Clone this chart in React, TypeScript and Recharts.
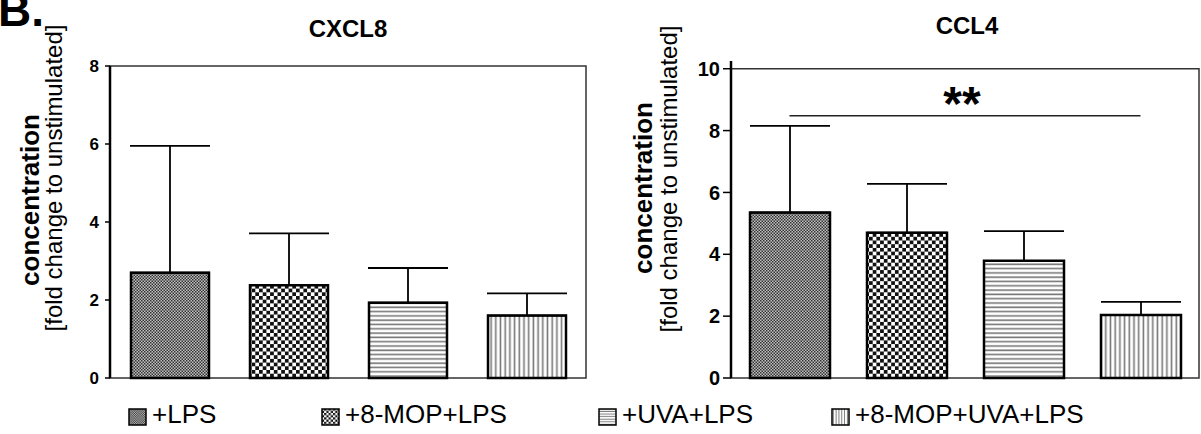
import { BarChart, Bar, XAxis, YAxis, ErrorBar, Cell, ReferenceArea, ReferenceLine } from "recharts"

// values (mean and upper SD, fold change to unstimulated)
const categories = ["+LPS", "+8-MOP+LPS", "+UVA+LPS", "+8-MOP+UVA+LPS"]
const cxcl8Mean = [2.7, 2.38, 1.93, 1.6]
const cxcl8Sd = [3.25, 1.33, 0.89, 0.57]
const ccl4Mean = [5.35, 4.7, 3.79, 2.04]
const ccl4Sd = [2.8, 1.58, 0.96, 0.42]
const cxcl8Ticks = [0, 2, 4, 6, 8]
const ccl4Ticks = [0, 2, 4, 6, 8, 10]
const ccl4SigLevel = 8.48
const ccl4SigText = "**"

const FONT = "'Liberation Sans', Arial, Helvetica, sans-serif"

const buildRows = (mean: number[], sd: number[]) =>
  categories.map((name, i) => ({ name, mean: mean[i], err: [0, sd[i]] }))

const cxcl8Data = buildRows(cxcl8Mean, cxcl8Sd)
const ccl4Data = buildRows(ccl4Mean, ccl4Sd)

function Patterns({ prefix, scale = 1 }: { prefix: string; scale?: number }) {
  const s = scale
  return (
    <defs>
      <pattern id={`${prefix}-0`} width={3 * s} height={3 * s} patternUnits="userSpaceOnUse">
        <rect width={3 * s} height={3 * s} fill="#c0c0c0" />
        <rect width={1.5 * s} height={1.5 * s} fill="#333" />
        <rect x={1.5 * s} y={1.5 * s} width={1.5 * s} height={1.5 * s} fill="#333" />
      </pattern>
      <pattern id={`${prefix}-1`} width={7.4 * s} height={7.4 * s} patternUnits="userSpaceOnUse">
        <rect width={7.4 * s} height={7.4 * s} fill="#fff" />
        <rect width={3.7 * s} height={3.7 * s} fill="#111" />
        <rect x={3.7 * s} y={3.7 * s} width={3.7 * s} height={3.7 * s} fill="#111" />
      </pattern>
      <pattern id={`${prefix}-2`} width={8} height={4.3 * s} patternUnits="userSpaceOnUse">
        <rect width={8} height={4.3 * s} fill="#fff" />
        <rect y={1.2 * s} width={8} height={1.6 * s} fill="#777" />
      </pattern>
      <pattern id={`${prefix}-3`} width={4.7 * s} height={8} patternUnits="userSpaceOnUse">
        <rect width={4.7 * s} height={8} fill="#fff" />
        <rect x={1.5 * s} width={1.6 * s} height={8} fill="#777" />
      </pattern>
    </defs>
  )
}

function AxisTitle({ boldX, boldY, subX, subY }: { boldX: number; boldY: number; subX: number; subY: number }) {
  return (
    <g fontFamily={FONT} fill="#000">
      <text x={boldX} y={boldY} transform={`rotate(-90 ${boldX} ${boldY})`} textAnchor="middle" fontSize={26} fontWeight="bold">
        concentration
      </text>
      <text x={subX} y={subY} transform={`rotate(-90 ${subX} ${subY})`} textAnchor="middle" fontSize={24}>
        [fold change to unstimulated]
      </text>
    </g>
  )
}

function CXCL8Chart() {
  return (
    <BarChart width={600} height={434} data={cxcl8Data} margin={{ top: 66, right: 14, bottom: 56, left: 50 }}>
      <Patterns prefix="cx" />
      <ReferenceArea y1={0} y2={8} fill="none" stroke="#333" strokeWidth={1.5} />
      <XAxis dataKey="name" height={0} tick={false} tickLine={false} axisLine={{ stroke: "#000", strokeWidth: 2.5 }} />
      <YAxis
        width={60}
        domain={[0, 8]}
        ticks={cxcl8Ticks}
        interval={0}
        tickSize={5}
        tickMargin={6}
        axisLine={{ stroke: "#000", strokeWidth: 2.5 }}
        tickLine={{ stroke: "#000", strokeWidth: 1.5 }}
        tick={{ fill: "#000", fontSize: 17, fontWeight: "bold", fontFamily: FONT }}
        label={<AxisTitle boldX={39} boldY={200} subX={62} subY={178} />}
      />
      <Bar dataKey="mean" barSize={78} stroke="#000" strokeWidth={2.5} isAnimationActive={false}>
        {cxcl8Data.map((d, i) => (
          <Cell key={d.name} fill={`url(#cx-${i})`} />
        ))}
        <ErrorBar dataKey="err" width={40} stroke="#000" strokeWidth={1.8} direction="y" />
      </Bar>
    </BarChart>
  )
}

function CCL4Chart() {
  return (
    <BarChart width={591} height={434} data={ccl4Data} margin={{ top: 61, right: 2, bottom: 56, left: 61 }}>
      <Patterns prefix="cc" />
      <ReferenceArea y1={0} y2={10} fill="none" stroke="#333" strokeWidth={1.5} />
      <XAxis dataKey="name" height={0} tick={false} tickLine={false} axisLine={{ stroke: "#000", strokeWidth: 2.5 }} />
      <YAxis
        width={60}
        domain={[0, 10.25]}
        ticks={ccl4Ticks}
        interval={0}
        tickSize={8}
        tickMargin={3}
        axisLine={{ stroke: "#000", strokeWidth: 2.5 }}
        tickLine={{ stroke: "#000", strokeWidth: 1.5 }}
        tick={{ fill: "#000", fontSize: 20, fontWeight: "bold", fontFamily: FONT }}
        label={<AxisTitle boldX={42} boldY={188} subX={67} subY={179} />}
      />
      <Bar dataKey="mean" barSize={80} stroke="#000" strokeWidth={2.5} isAnimationActive={false}>
        {ccl4Data.map((d, i) => (
          <Cell key={d.name} fill={`url(#cc-${i})`} />
        ))}
        <ErrorBar dataKey="err" width={40} stroke="#000" strokeWidth={1.8} direction="y" />
      </Bar>
      <ReferenceLine
        segment={[
          { x: categories[0], y: ccl4SigLevel },
          { x: categories[3], y: ccl4SigLevel },
        ]}
        stroke="#222"
        strokeWidth={1.5}
        label={(props: any) => {
          const vb = props.viewBox || {}
          const cx = (vb.x ?? 0) + (vb.width ?? 0) / 2 - 3
          const cy = vb.y ?? 0
          return (
            <text x={cx} y={cy + 4} textAnchor="middle" fontFamily={FONT} fontWeight="bold" fontSize={48} fill="#000">
              {ccl4SigText}
            </text>
          )
        }}
      />
    </BarChart>
  )
}

const legendX = [152, 345, 622, 855]

export default function App() {
  return (
    <div style={{ position: "absolute", left: 0, top: 0, width: 1201, height: 434, background: "#fff", overflow: "hidden" }}>
      <div style={{ position: "absolute", left: 0, top: 0 }}>
        <CXCL8Chart />
      </div>
      <div style={{ position: "absolute", left: 610, top: 0 }}>
        <CCL4Chart />
      </div>
      <svg width={1201} height={434} style={{ position: "absolute", left: 0, top: 0, pointerEvents: "none" }}>
        <Patterns prefix="lg" scale={0.6} />
        <g fontFamily={FONT} fill="#000">
          <text x={-2} y={26} fontSize={46} fontWeight="bold">B.</text>
          <text x={348} y={37} fontSize={24} fontWeight="bold" textAnchor="middle">CXCL8</text>
          <text x={967} y={34} fontSize={24} fontWeight="bold" textAnchor="middle">CCL4</text>
        </g>
        {categories.map((c, i) => (
          <g key={c}>
            <rect x={legendX[i] - 23} y={409} width={17} height={16} fill={`url(#lg-${i})`} stroke="#000" strokeWidth={1.5} />
            <text x={legendX[i]} y={423} fontFamily={FONT} fontSize={26} fill="#000">
              {c}
            </text>
          </g>
        ))}
      </svg>
    </div>
  )
}
